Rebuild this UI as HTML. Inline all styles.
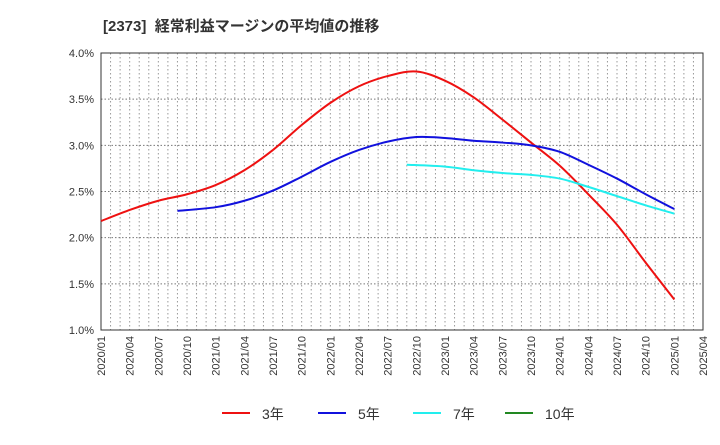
<!DOCTYPE html>
<html><head><meta charset="utf-8"><style>
body{margin:0;background:#fff;font-family:"Liberation Sans","Noto Sans CJK JP",sans-serif}
</style></head><body>
<svg id="chart" width="720" height="440" xmlns="http://www.w3.org/2000/svg">
<text x="103" y="31" font-size="15" font-weight="bold" fill="#333" font-family="Liberation Sans, Noto Sans CJK JP, sans-serif">[2373]&#160; 経常利益マージンの平均値の推移</text>
<g id="grid"></g><g id="axes"></g><g id="series"></g><g id="legend"></g>
</svg>
<script>
const xLabels=["2020/01","2020/04","2020/07","2020/10","2021/01","2021/04","2021/07","2021/10","2022/01","2022/04","2022/07","2022/10","2023/01","2023/04","2023/07","2023/10","2024/01","2024/04","2024/07","2024/10","2025/01","2025/04"];
const yTicks=[1.0,1.5,2.0,2.5,3.0,3.5,4.0];
const m3=[0,3,6,9,12,15,18,21,24,27,30,33,36,39,42,45,48,51,54,57,60];
const v3=[2.18,2.30,2.40,2.47,2.57,2.73,2.95,3.22,3.46,3.64,3.75,3.80,3.70,3.52,3.28,3.03,2.78,2.47,2.14,1.73,1.33];
const m5=[8,12,15,18,21,24,27,30,33,36,39,42,45,48,51,54,57,60];
const v5=[2.29,2.33,2.40,2.51,2.66,2.82,2.95,3.04,3.09,3.08,3.05,3.03,3.00,2.93,2.79,2.64,2.47,2.31];
const m7=[32,36,39,42,45,48,51,54,57,60];
const v7=[2.79,2.77,2.73,2.70,2.68,2.64,2.55,2.45,2.35,2.26];
const m10=[];const v10=[];
const L=101,R=703,T=53,B=330;
const X=m=>L+(R-L)*m/63;
const Y=v=>B-(B-T)*(v-1)/3;
const NS="http://www.w3.org/2000/svg";
function mk(t,a,p){const e=document.createElementNS(NS,t);for(const k in a)e.setAttribute(k,a[k]);p.appendChild(e);return e;}
const grid=document.getElementById('grid'),axes=document.getElementById('axes'),ser=document.getElementById('series'),leg=document.getElementById('legend');
for(let m=1;m<63;m++){const l=mk('line',{x1:X(m),x2:X(m),y1:T,y2:B,stroke:'#999','stroke-dasharray':'1.5,2.5','stroke-width':1},grid);

}
yTicks.forEach(v=>{if(v>1&&v<4){const l=mk('line',{x1:L,x2:R,y1:Y(v),y2:Y(v),stroke:'#777','stroke-dasharray':'1.5,2','stroke-width':1},grid);

}
const t=mk('text',{x:L-7,y:Y(v)+4,'font-size':11,'text-anchor':'end',fill:'#333'},axes);t.textContent=v.toFixed(1)+'%';

});
const fr=mk('rect',{x:L,y:T,width:R-L,height:B-T,fill:'none',stroke:'#333','stroke-width':1},axes);


xLabels.forEach((s,i)=>{const x=X(i*3);const t=mk('text',{x:x+4,y:B+6,'font-size':11,'text-anchor':'end',fill:'#333',transform:`rotate(-90 ${x+4} ${B+6})`},axes);t.textContent=s;

});
function path(ms,vs){const p=ms.map((m,i)=>[X(m),Y(vs[i])]);if(!p.length)return'';let d=`M${p[0][0]},${p[0][1]}`;
for(let i=0;i<p.length-1;i++){const p0=p[i-1]||p[i],p1=p[i],p2=p[i+1],p3=p[i+2]||p2;
d+=` C${p1[0]+(p2[0]-p0[0])/6},${p1[1]+(p2[1]-p0[1])/6} ${p2[0]-(p3[0]-p1[0])/6},${p2[1]-(p3[1]-p1[1])/6} ${p2[0]},${p2[1]}`;}return d;}
const S=[[m3,v3,'#ee1111','3年','series-3yr'],[m5,v5,'#1111dd','5年','series-5yr'],[m7,v7,'#22eeee','7年','series-7yr'],[m10,v10,'#228822','10年','series-10yr']];
const lx=[222,318,413,505];
S.forEach((s,i)=>{if(s[0].length){const p=mk('path',{d:path(s[0],s[1]),fill:'none',stroke:s[2],'stroke-width':2},ser);

}
const g=mk('g',{},leg);


mk('line',{x1:lx[i],x2:lx[i]+28,y1:413,y2:413,stroke:s[2],'stroke-width':2},g);
const t=mk('text',{x:lx[i]+40,y:419,'font-size':14,fill:'#333'},g);t.textContent=s[3];});
</script>
</body></html>
